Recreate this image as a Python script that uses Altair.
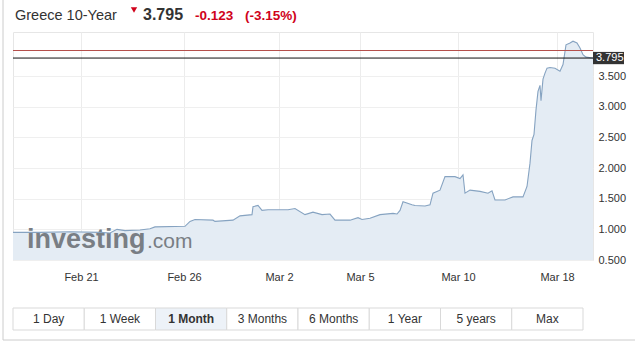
import altair as alt
import pandas as pd

# ---- data ----
t = [0, 5.4, 11.4, 17.4, 19.4, 20.8, 22.4, 25.4, 27.4, 28.4, 34.4, 35.4, 36.4, 40.0, 40.4,
     44.0, 45.4, 47.8, 48.0, 49.0, 49.8, 51.0, 55.0, 56.4, 58.4, 60.0, 61.8, 63.4, 64.4,
     67.4, 69.0, 69.8, 71.4, 73.4, 76.0, 76.8, 77.4, 78.0, 79.8, 80.4, 82.4, 83.4, 84.0,
     85.4, 86.4, 88.4, 89.4, 90.0, 90.4, 91.4, 93.4, 95.0, 95.8, 96.4, 98.4, 100.0, 102.0,
     102.8, 103.4, 103.8, 104.2, 104.6, 105.0, 105.4, 105.6, 106.0, 106.4, 106.8, 107.4,
     108.4, 109.4, 110.0, 110.6, 111.4, 112.0, 112.8, 113.4, 114.0, 114.6, 116.0]
yld = [0.95, 0.95, 0.96, 0.95, 0.94, 1.00, 0.98, 0.99, 1.01, 1.04, 1.05, 1.13, 1.16, 1.15, 1.13,
       1.15, 1.22, 1.24, 1.37, 1.39, 1.31, 1.32, 1.32, 1.34, 1.24, 1.28, 1.24, 1.25, 1.15,
       1.15, 1.19, 1.16, 1.18, 1.24, 1.26, 1.25, 1.31, 1.45, 1.40, 1.39, 1.38, 1.40, 1.59,
       1.64, 1.86, 1.86, 1.83, 1.89, 1.59, 1.64, 1.62, 1.59, 1.63, 1.48, 1.48, 1.53, 1.53,
       1.70, 2.08, 2.45, 2.55, 2.95, 3.25, 3.35, 3.10, 3.45, 3.55, 3.63, 3.64,
       3.63, 3.58, 3.69, 4.01, 4.04, 4.07, 4.04, 3.96, 3.85, 3.81, 3.795]

date_ticks = [13.6, 34.2, 53.2, 69.4, 89.0, 108.8]
date_labels = ["Feb 21", "Feb 26", "Mar 2", "Mar 5", "Mar 10", "Mar 18"]
y_ticks = [0.5, 1.0, 1.5, 2.0, 2.5, 3.0, 3.5]

title_name = "Greece 10-Year"
last_price = 3.795
prev_close = 3.918
change_txt = "-0.123"
change_pct_txt = "(-3.15%)"

buttons = ["1 Day", "1 Week", "1 Month", "3 Months", "6 Months", "1 Year", "5 years", "Max"]
selected = "1 Month"

FONT = "Liberation Sans"
RED = "#d0021b"

# ---- main chart ----
df = pd.DataFrame({"t": t, "v": yld})

label_expr = " : ".join(
    f"datum.value == {tv} ? '{lb}'" for tv, lb in zip(date_ticks, date_labels)
) + " : ''"

x_enc = alt.X(
    "t:Q",
    scale=alt.Scale(domain=[0, 116], nice=False, zero=False),
    axis=alt.Axis(values=date_ticks, labelExpr=label_expr, title=None, grid=True,
                  gridColor="#ececec", ticks=False, domain=False, labelPadding=11,
                  labelFontSize=11, labelColor="#333333", labelFont=FONT,
                  labelOverlap=False, labelFlush=False),
)
y_scale = alt.Scale(domain=[0.5, 4.22], nice=False, zero=False)
y_axis = alt.Axis(orient="right", values=y_ticks, format=".3f", title=None, grid=True,
                  gridColor="#efefef", ticks=False, domain=False, labelPadding=5,
                  labelFontSize=11, labelColor="#333333", labelFont=FONT,
                  labelOverlap=False, labelFlush=False)


def yq(field):
    return alt.Y(f"{field}:Q", scale=y_scale, axis=y_axis)


area = alt.Chart(df).mark_area(color="#e4ecf4", clip=True).encode(x=x_enc, y=yq("v"))
line = alt.Chart(df).mark_line(color="#86a3c1", strokeWidth=1.1, clip=True).encode(
    x=x_enc, y=yq("v"))

wm_df = pd.DataFrame({"a": ["investing"], "b": [".com"]})
wm1 = alt.Chart(wm_df).mark_text(font=FONT, fontSize=27, fontWeight="bold", color="#797e84",
                                 align="left", baseline="alphabetic").encode(
    x=alt.value(14), y=alt.value(216), text="a:N")
wm2 = alt.Chart(wm_df).mark_text(font=FONT, fontSize=21, color="#797e84",
                                 align="left", baseline="alphabetic").encode(
    x=alt.value(134), y=alt.value(216), text="b:N")

ref_df = pd.DataFrame({"v": [prev_close], "k": ["prev"]})
last_df = pd.DataFrame({"v": [last_price], "lbl": [f"{last_price:.3f}"]})
red_rule = alt.Chart(ref_df).mark_rule(color="#b5504c", strokeWidth=1).encode(y=yq("v"))
blk_rule = alt.Chart(last_df).mark_rule(color="#111111", strokeWidth=1).encode(y=yq("v"))
box = alt.Chart(last_df).transform_calculate(
    top="datum.v + 0.1", bot="datum.v - 0.1"
).mark_rect(color="#333333").encode(
    x=alt.value(580), x2=alt.value(611),
    y=yq("top"), y2="bot:Q")
box_txt = alt.Chart(last_df).mark_text(font=FONT, fontSize=11, color="#ffffff",
                                       align="left", baseline="middle").encode(
    x=alt.value(583), y=yq("v"), text="lbl:N")

main = alt.layer(area, wm1, wm2, line, red_rule, blk_rule, box, box_txt)

# ---- header ----
hdr = pd.DataFrame({"name": [title_name], "price": [f"{last_price:.3f}"],
                    "chg": [change_txt], "pct": [change_pct_txt]})
h1 = alt.Chart(hdr).mark_text(font=FONT, fontSize=14.5, color="#333333", align="left",
                              baseline="alphabetic").encode(
    x=alt.value(2), y=alt.value(-12), text="name:N")
h_arrow = alt.Chart(hdr).mark_point(shape="triangle-down", filled=True, color=RED,
                                    size=40, opacity=1).encode(
    x=alt.value(121), y=alt.value(-22))
h2 = alt.Chart(hdr).mark_text(font=FONT, fontSize=16, fontWeight="bold", color="#333333",
                              align="left", baseline="alphabetic").encode(
    x=alt.value(130), y=alt.value(-12), text="price:N")
h3 = alt.Chart(hdr).mark_text(font=FONT, fontSize=13.5, fontWeight="bold", color=RED,
                              align="left", baseline="alphabetic").encode(
    x=alt.value(182), y=alt.value(-12), text="chg:N")
h4 = alt.Chart(hdr).mark_text(font=FONT, fontSize=13.5, fontWeight="bold", color=RED,
                              align="left", baseline="alphabetic").encode(
    x=alt.value(232), y=alt.value(-12), text="pct:N")

# ---- outer frame ----
frame_df = pd.DataFrame({"k": [1]})
f_left = alt.Chart(frame_df).mark_rule(color="#cccccc").encode(
    x=alt.value(-10), y=alt.value(-32), y2=alt.value(308))
f_bot = alt.Chart(frame_df).mark_rule(color="#cccccc").encode(
    x=alt.value(-10), x2=alt.value(622), y=alt.value(308))

# ---- range buttons ----
bdf = pd.DataFrame({"label": buttons})
bscale = alt.Scale(domain=buttons, range=[0, 570], paddingInner=0, paddingOuter=0)
b_rect = alt.Chart(bdf).mark_rect(stroke="#d9d9d9", strokeWidth=1).encode(
    x=alt.X("label:N", scale=bscale, axis=None),
    y=alt.value(276), y2=alt.value(298),
    fill=alt.condition(alt.datum.label == selected, alt.value("#edf2f8"), alt.value("#ffffff")),
)
b_txt = alt.Chart(bdf).transform_filter(alt.datum.label != selected).mark_text(
    font=FONT, fontSize=12, color="#333333", baseline="middle", align="center").encode(
    x=alt.X("label:N", scale=bscale, axis=None, bandPosition=0.5),
    y=alt.value(287), text="label:N")
b_sel = alt.Chart(bdf).transform_filter(alt.datum.label == selected).mark_text(
    font=FONT, fontSize=12, fontWeight="bold", color="#333333", baseline="middle",
    align="center").encode(
    x=alt.X("label:N", scale=bscale, axis=None, bandPosition=0.5),
    y=alt.value(287), text="label:N")
btns = alt.layer(b_rect, b_txt, b_sel)

chart = alt.layer(main, btns, h1, h_arrow, h2, h3, h4, f_left, f_bot).resolve_scale(
    x="independent", y="independent"
).properties(
    width=580, height=228,
    autosize=alt.AutoSizeParams(type="none"),
    padding={"left": 13, "top": 32, "right": 42, "bottom": 83},
    background="#ffffff",
).configure_view(stroke="#e6e6e6")

chart.save("out.html", embed_options={"renderer": "svg", "actions": False})
